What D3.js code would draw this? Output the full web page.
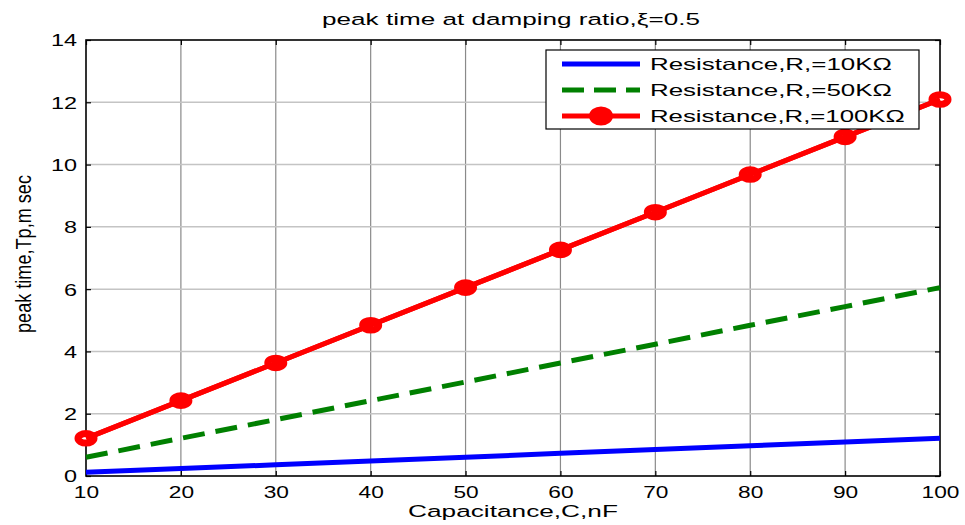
<!DOCTYPE html>
<html>
<head>
<meta charset="utf-8">
<script src="https://cdn.jsdelivr.net/npm/d3@7"></script>
<style>
  html, body { margin: 0; padding: 0; background: #fff; }
  svg { display: block; font-family: "Liberation Sans", Arial, Helvetica, sans-serif; }
</style>
</head>
<body>
<svg id="chart" width="965" height="525"></svg>
<script>
// Capacitance (nF) on the x axis
const capacitance = [10, 20, 30, 40, 50, 60, 70, 80, 90, 100];
// Peak time Tp (ms) for each resistance
const tpR10k  = [0.12, 0.24, 0.36, 0.48, 0.60, 0.73, 0.85, 0.97, 1.09, 1.21];
const tpR50k  = [0.60, 1.21, 1.81, 2.42, 3.02, 3.63, 4.23, 4.84, 5.44, 6.05];
const tpR100k = [1.21, 2.42, 3.63, 4.84, 6.05, 7.26, 8.47, 9.68, 10.89, 12.09];
const xTicks = [10, 20, 30, 40, 50, 60, 70, 80, 90, 100];
const yTicks = [0, 2, 4, 6, 8, 10, 12, 14];
const seriesNames = ["Resistance,R,=10K\u03A9", "Resistance,R,=50K\u03A9", "Resistance,R,=100K\u03A9"];
const titleText = "peak time at damping ratio,\u03BE=0.5";
const xLabelText = "Capacitance,C,nF";
const yLabelText = "peak time,Tp,m sec";

const svg = d3.select("#chart");
const pLeft = 86, pRight = 940, pTop = 40, pBottom = 476;

const x = d3.scaleLinear().domain([10, 100]).range([pLeft, pRight]);
const y = d3.scaleLinear().domain([0, 14]).range([pBottom, pTop]);

// Stretch a text element along its baseline so it spans a given width
function fit(t, tx, ty, width, rot, sy) {
  const w = t.node().getComputedTextLength();
  const s = width / w;
  t.attr("transform", `translate(${tx},${ty})${rot ? " rotate(-90)" : ""} scale(${s},${sy || 1})`);
}

// grid
const grid = svg.append("g");
grid.selectAll("line.vx").data(xTicks.slice(1, -1)).join("line")
  .attr("x1", d => x(d)).attr("x2", d => x(d))
  .attr("y1", pTop).attr("y2", pBottom)
  .attr("stroke", "#8a8a8a").attr("stroke-width", 1.2);
grid.selectAll("line.hy").data(yTicks.slice(1, -1)).join("line")
  .attr("y1", d => y(d)).attr("y2", d => y(d))
  .attr("x1", pLeft).attr("x2", pRight)
  .attr("stroke", "#c4c4c4").attr("stroke-width", 1.5);

// axes with inward ticks on all four sides
const xAxis = svg.append("g").attr("transform", `translate(0,${pBottom})`)
  .call(d3.axisBottom(x).tickValues(xTicks).tickSizeInner(-5).tickSizeOuter(0).tickPadding(8));
const yAxis = svg.append("g").attr("transform", `translate(${pLeft},0)`)
  .call(d3.axisLeft(y).tickValues(yTicks).tickSizeInner(-5).tickSizeOuter(0).tickPadding(8));
svg.append("g").attr("transform", `translate(0,${pTop})`)
  .call(d3.axisTop(x).tickValues(xTicks).tickSizeInner(-5).tickSizeOuter(0).tickFormat(""));
svg.append("g").attr("transform", `translate(${pRight},0)`)
  .call(d3.axisRight(y).tickValues(yTicks).tickSizeInner(-5).tickSizeOuter(0).tickFormat(""));
svg.selectAll(".domain").remove();
svg.selectAll(".tick line").attr("stroke", "#000").attr("stroke-width", 1.2);

xAxis.selectAll(".tick text")
  .attr("font-size", 16).attr("fill", "#000").attr("y", 0).attr("dy", 0)
  .attr("transform", "translate(0,21.5) scale(1.42,1)");
yAxis.selectAll(".tick text")
  .attr("font-size", 16.5).attr("fill", "#000").attr("x", 0).attr("dy", "0.36em")
  .attr("transform", "translate(-9,0) scale(1.42,1)");

// plot box
svg.append("rect").attr("x", pLeft).attr("y", pTop)
  .attr("width", pRight - pLeft).attr("height", pBottom - pTop)
  .attr("fill", "none").attr("stroke", "#000").attr("stroke-width", 1.6);

const line = d3.line().x((d, i) => x(capacitance[i])).y(d => y(d));

svg.append("path").datum(tpR10k).attr("d", line)
  .attr("fill", "none").attr("stroke", "#0000ff").attr("stroke-width", 5);
svg.append("path").datum(tpR50k).attr("d", line)
  .attr("fill", "none").attr("stroke", "#008000").attr("stroke-width", 5)
  .attr("stroke-dasharray", "22,11");
svg.append("path").datum(tpR100k).attr("d", line)
  .attr("fill", "none").attr("stroke", "#ff0000").attr("stroke-width", 5);
// thick-rimmed circle markers, leaving only a small open centre
svg.selectAll("ellipse.mk").data(tpR100k).join("ellipse")
  .attr("cx", (d, i) => x(capacitance[i])).attr("cy", d => y(d))
  .attr("rx", 8).attr("ry", 4.8)
  .attr("fill", "#fff").attr("stroke", "#ff0000").attr("stroke-width", 7);
// line drawn again across the marker centres
svg.append("path").datum(tpR100k).attr("d", line)
  .attr("fill", "none").attr("stroke", "#ff0000").attr("stroke-width", 5);

// title and axis labels
fit(svg.append("text").text(titleText).attr("font-size", 17).attr("text-anchor", "middle"),
    511, 25, 378);
fit(svg.append("text").text(xLabelText).attr("font-size", 16.5).attr("text-anchor", "middle"),
    513, 517, 210);
fit(svg.append("text").text(yLabelText).attr("font-size", 17).attr("text-anchor", "middle"),
    31, 254, 158, true, 1.25);

// legend
const lg = svg.append("g");
lg.append("rect").attr("x", 546).attr("y", 50).attr("width", 373).attr("height", 79)
  .attr("fill", "#fff").attr("stroke", "#000").attr("stroke-width", 1.2);
const rows = [64, 90, 116];
const styles = [
  { c: "#0000ff", dash: null },
  { c: "#008000", dash: "22,10" },
  { c: "#ff0000", dash: null }
];
const legendWidths = [242, 242, 255];
seriesNames.forEach((name, i) => {
  lg.append("line").attr("x1", 562).attr("x2", 640).attr("y1", rows[i]).attr("y2", rows[i])
    .attr("stroke", styles[i].c).attr("stroke-width", 5)
    .attr("stroke-dasharray", styles[i].dash);
  if (i === 2) {
    lg.append("ellipse").attr("cx", 601).attr("cy", rows[i]).attr("rx", 9.5).attr("ry", 7)
      .attr("fill", "#ff0000").attr("stroke", "#ff0000").attr("stroke-width", 5);
  }
  const t = lg.append("text").text(name).attr("font-size", 16.5).attr("dy", "0.36em");
  fit(t, 650, rows[i], legendWidths[i]);
});
</script>
</body>
</html>
